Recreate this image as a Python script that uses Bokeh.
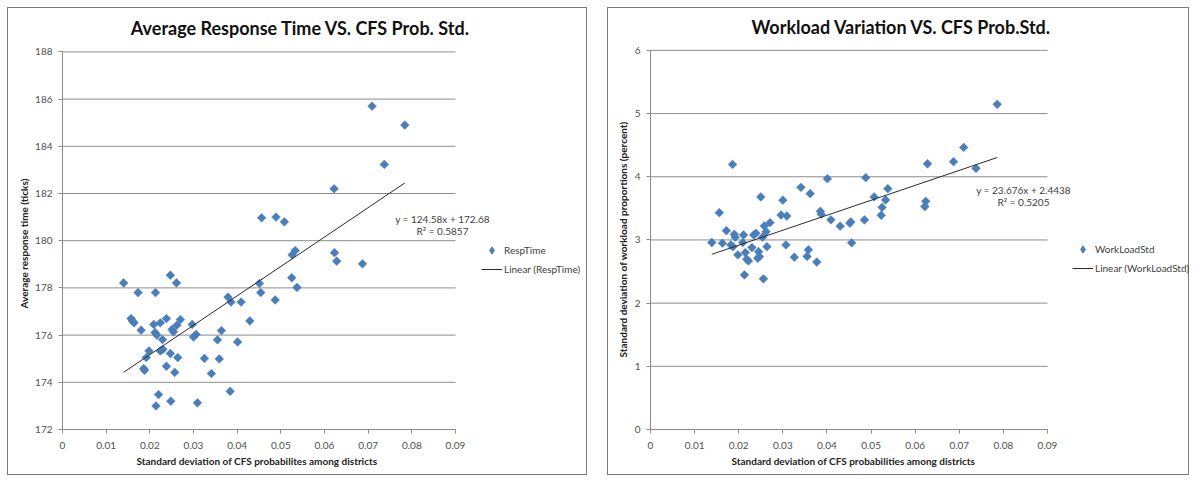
import numpy as np
from bokeh.plotting import figure
from bokeh.layouts import row, column
from bokeh.models import (FixedTicker, NumeralTickFormatter, Label, Legend,
                          LegendItem, Range1d, Spacer, Title)
from bokeh.embed import file_html
from bokeh.resources import INLINE

# ---------------- data ----------------
x_ticks = [0, 0.01, 0.02, 0.03, 0.04, 0.05, 0.06, 0.07, 0.08, 0.09]
resp_y_ticks = [172, 174, 176, 178, 180, 182, 184, 186, 188]
work_y_ticks = [0, 1, 2, 3, 4, 5, 6]

resp_x = [0.0140, 0.0157, 0.0160, 0.0164, 0.0173, 0.0180, 0.0186, 0.0188, 0.0192, 0.0198,
          0.0209, 0.0212, 0.0213, 0.0214, 0.0216, 0.0220, 0.0224, 0.0224, 0.0229, 0.0230,
          0.0238, 0.0238, 0.0247, 0.0247, 0.0248, 0.0251, 0.0254, 0.0257, 0.0261, 0.0262,
          0.0264, 0.0270, 0.0297, 0.0300, 0.0306, 0.0309, 0.0325, 0.0341, 0.0355, 0.0359,
          0.0364, 0.0379, 0.0384, 0.0386, 0.0401, 0.0409, 0.0429, 0.0451, 0.0454, 0.0456,
          0.0487, 0.0489, 0.0508, 0.0525, 0.0526, 0.0533, 0.0537, 0.0622, 0.0623, 0.0628,
          0.0687, 0.0709, 0.0737, 0.0784]
resp_y = [178.21, 176.70, 176.60, 176.52, 177.80, 176.21, 174.58, 174.51, 175.05, 175.33,
          176.45, 176.11, 177.80, 173.00, 176.00, 173.48, 176.52, 175.33, 175.81, 175.40,
          176.70, 174.68, 178.54, 175.22, 173.20, 176.24, 176.14, 174.42, 178.21, 176.42,
          175.05, 176.66, 176.45, 175.92, 176.03, 173.13, 175.01, 174.37, 175.80, 174.99,
          176.19, 177.61, 173.62, 177.40, 175.71, 177.40, 176.60, 178.19, 177.80, 180.97,
          177.49, 181.00, 180.80, 178.43, 179.40, 179.58, 178.02, 182.20, 179.49, 179.13,
          179.02, 185.70, 183.23, 184.90]

work_x = [0.0139, 0.0156, 0.0163, 0.0172, 0.0182, 0.0186, 0.0187, 0.0190, 0.0192, 0.0198,
          0.0209, 0.0211, 0.0213, 0.0215, 0.0218, 0.0222, 0.0230, 0.0234, 0.0239, 0.0243,
          0.0245, 0.0247, 0.0250, 0.0254, 0.0256, 0.0258, 0.0262, 0.0264, 0.0271, 0.0296,
          0.0300, 0.0307, 0.0309, 0.0326, 0.0341, 0.0355, 0.0358, 0.0362, 0.0377, 0.0385,
          0.0387, 0.0401, 0.0409, 0.0430, 0.0452, 0.0454, 0.0456, 0.0485, 0.0488, 0.0507,
          0.0523, 0.0525, 0.0533, 0.0538, 0.0622, 0.0624, 0.0628, 0.0687, 0.0710, 0.0738,
          0.0786]
work_y = [2.958, 3.431, 2.948, 3.147, 2.921, 4.196, 2.894, 3.090, 3.043, 2.763,
          2.958, 3.079, 2.447, 2.800, 2.695, 2.668, 2.879, 3.079, 3.106, 2.711,
          2.815, 2.737, 3.680, 3.043, 2.384, 3.221, 3.131, 2.894, 3.274, 3.395,
          3.630, 2.921, 3.379, 2.727, 3.833, 2.739, 2.844, 3.733, 2.650, 3.454,
          3.407, 3.969, 3.318, 3.218, 3.265, 3.286, 2.955, 3.318, 3.985, 3.680,
          3.391, 3.517, 3.633, 3.812, 3.528, 3.612, 4.206, 4.238, 4.464, 4.133,
          5.147]

# Excel trendline coefficients as displayed on the charts
resp_fit = (124.58, 172.68, "0.5857")
work_fit = (23.676, 2.4438, "0.5205")

FONT = "Lato"
BLUE = "#4a7ebb"
GRID = "#8c8c8c"
H = 468


def panel(title, xs, ys, fit, series, y_ticks, ylabel, xlabel, width,
          left, bottom, data_w, data_h, title_pos, eq_pos, legend_pos,
          xlabel_offset, ylabel_offset):
    right, top = 0, 2
    frame_w = width - left - right
    frame_h = H - top - bottom
    x0, x1 = x_ticks[0], x_ticks[-1]
    y0, y1 = y_ticks[0], y_ticks[-1]
    # frame is larger than the plotting area so that texts outside it are not clipped
    x_end = x0 + (x1 - x0) * frame_w / data_w
    y_end = y0 + (y1 - y0) * frame_h / data_h
    p = figure(width=width, height=H, output_backend="svg", toolbar_location=None,
               x_range=Range1d(x0, x_end), y_range=Range1d(y0, y_end),
               min_border_left=left, min_border_right=right,
               min_border_top=top, min_border_bottom=bottom)
    p.styles = {"border": "1px solid #7a7a7a"}
    p.outline_line_color = None
    p.background_fill_color = "white"
    p.border_fill_color = "white"
    p.xgrid.visible = False
    p.ygrid.visible = False

    p.xaxis.ticker = FixedTicker(ticks=x_ticks)
    p.xaxis.formatter = NumeralTickFormatter(format="0.[00]")
    p.yaxis.ticker = FixedTicker(ticks=y_ticks)
    p.xaxis.bounds = (x0, x1)
    p.yaxis.bounds = (y0, y1)
    for ax in (p.xaxis, p.yaxis):
        ax.axis_line_color = GRID
        ax.major_tick_line_color = GRID
        ax.major_tick_out = 4
        ax.major_tick_in = 0
        ax.minor_tick_line_color = None
        ax.major_label_text_font = FONT
        ax.major_label_text_font_size = "10px"
        ax.major_label_text_color = "#505050"
    p.xaxis.major_label_standoff = 8
    p.yaxis.major_label_standoff = 6

    # axis titles, placed along the plotting area (not the whole frame)
    p.add_layout(Title(text=xlabel, align="left", offset=xlabel_offset, standoff=3,
                       text_font=FONT, text_font_size="10px", text_font_style="bold",
                       text_color="#222222"), "below")
    p.add_layout(Title(text=ylabel, align="left", offset=ylabel_offset, standoff=6,
                       text_font=FONT, text_font_size="10px", text_font_style="bold",
                       text_color="#222222"), "left")

    # horizontal gridlines at the y ticks, across the plotting area only
    p.segment(x0=x0, x1=x1, y0=y_ticks[1:], y1=y_ticks[1:], line_color=GRID, line_width=1)

    # diamond used for the legend entry (hidden beneath the first point)
    leg_marker = p.scatter(x=xs[:1], y=ys[:1], marker="diamond", size=8,
                           fill_color=BLUE, line_color=BLUE)
    sc = p.scatter(xs, ys, marker="square", angle=np.pi / 4, size=6.2,
                   fill_color=BLUE, line_color=BLUE, line_width=0.5)
    slope, icpt, r2 = fit
    lx = [min(xs), max(xs)]
    ly = [slope * v + icpt for v in lx]
    ln = p.line(lx, ly, line_color="#2a2a2a", line_width=1)

    p.add_layout(Label(x=title_pos[0], y=title_pos[1], x_units="screen", y_units="screen",
                       text=title, text_font=FONT, text_font_style="bold",
                       text_font_size="18px", text_align="center", text_baseline="middle",
                       text_color="#111111"))
    p.add_layout(Label(x=eq_pos[0], y=eq_pos[1], x_units="screen", y_units="screen",
                       text=f"y = {slope}x + {icpt}", text_font=FONT, text_font_size="10px",
                       text_align="center", text_baseline="middle", text_color="#404040"))
    p.add_layout(Label(x=eq_pos[0], y=eq_pos[1] - 12, x_units="screen", y_units="screen",
                       text=f"R² = {r2}", text_font=FONT, text_font_size="10px",
                       text_align="center", text_baseline="middle", text_color="#404040"))

    leg = Legend(items=[LegendItem(label=series, renderers=[leg_marker]),
                        LegendItem(label=f"Linear ({series})", renderers=[ln])],
                 location=legend_pos, orientation="vertical")
    leg.background_fill_alpha = 0
    leg.border_line_color = None
    leg.padding = 0
    leg.margin = 0
    leg.spacing = 1
    leg.glyph_width = 21
    leg.glyph_height = 18
    leg.label_height = 18
    leg.label_standoff = 2
    leg.label_text_font = FONT
    leg.label_text_font_size = "10px"
    leg.label_text_color = "#404040"
    p.add_layout(leg)
    return p


p1 = panel("Average Response Time VS. CFS Prob. Std.", resp_x, resp_y, resp_fit,
           "RespTime", resp_y_ticks, "Average response time (ticks)",
           "Standard deviation of CFS probabilites among districts",
           width=580, left=54, bottom=47, data_w=393, data_h=377.6,
           title_pos=(238, 402), eq_pos=(380, 211), legend_pos=(419, 151),
           xlabel_offset=74, ylabel_offset=121)
p2 = panel("Workload Variation VS. CFS Prob.Std.", work_x, work_y, work_fit,
           "WorkLoadStd", work_y_ticks, "Standard deviation of workload proportions (percent)",
           "Standard deviation of CFS probabilities among districts",
           width=582, left=42, bottom=46, data_w=397, data_h=380,
           title_pos=(251, 403), eq_pos=(373, 240), legend_pos=(422, 152),
           xlabel_offset=81, ylabel_offset=72)

layout = column(Spacer(height=7),
                row(Spacer(width=7), p1, Spacer(width=20), p2))
open("out.html", "w").write(file_html(layout, INLINE))
